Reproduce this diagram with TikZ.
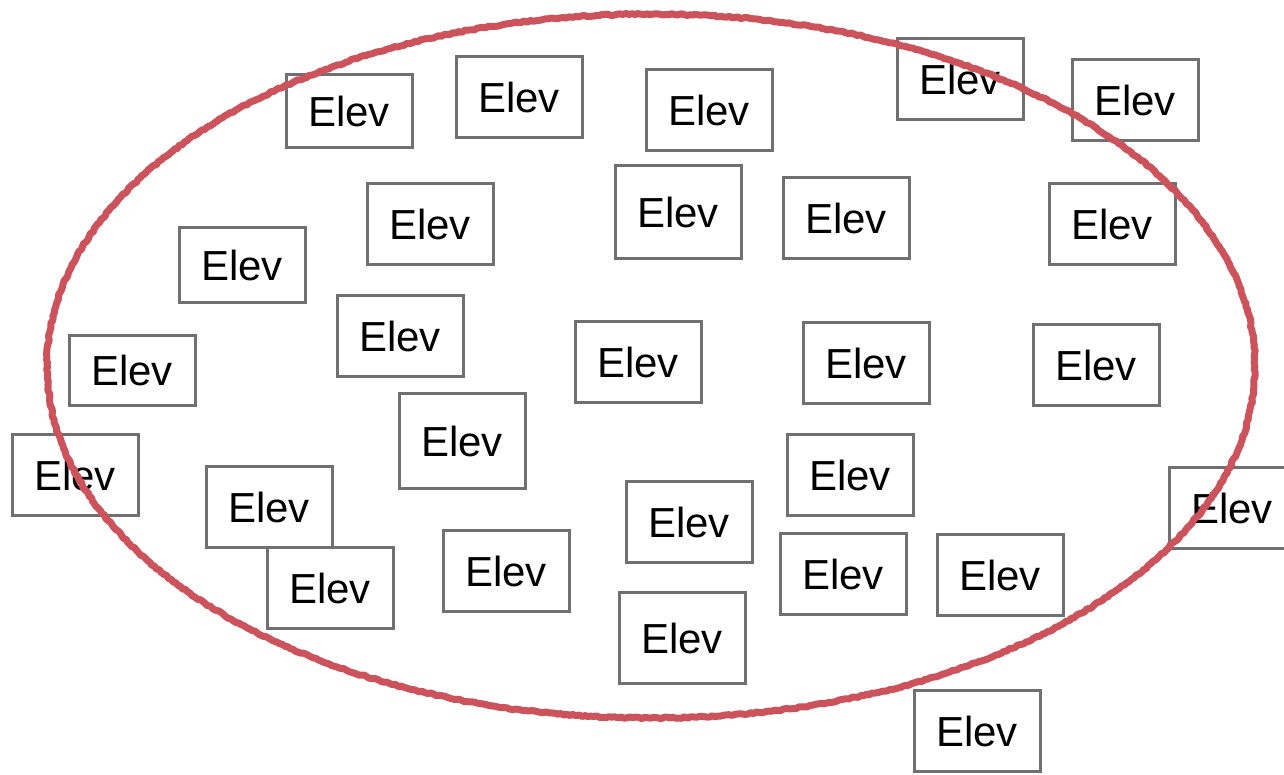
\documentclass[tikz,border=0pt]{standalone}
\usepackage{fontspec}
\setmainfont{Liberation Sans}
\usepackage{xcolor}
\usetikzlibrary{decorations.pathmorphing}
\definecolor{crayon}{RGB}{204,82,92}
\definecolor{boxgray}{RGB}{112,112,112}

\begin{document}
\begin{tikzpicture}[x=1pt, y=-1pt,
    elev/.style={draw=boxgray, line width=3pt, minimum width=126pt, minimum height=81pt,
        inner sep=0pt, font=\fontsize{42}{48}\selectfont},
    group/.style={draw=crayon, line width=7pt, line join=round, decorate,
        decoration={random steps, segment length=3pt, amplitude=0.8pt}}]
    \useasboundingbox (0,0) rectangle (1284,774);

    % top row
    \node[elev, minimum height=73pt] (elev1) at (349,111) {Elev};
    \node[elev] (elev2) at (519,97) {Elev};
    \node[elev] (elev3) at (709,110) {Elev};
    \node[elev] (elev4) at (960,79) {Elev};
    \node[elev] (elev5) at (1135,100) {Elev};

    \node[elev] (elev6) at (430,224) {Elev};
    \node[elev, minimum height=93pt] (elev7) at (678,212) {Elev};
    \node[elev] (elev8) at (846,218) {Elev};
    \node[elev] (elev9) at (1112,224) {Elev};
    \node[elev, minimum height=75pt] (elev10) at (242,265) {Elev};

    % middle
    \node[elev] (elev11) at (400,336) {Elev};
    \node[elev, minimum height=70pt] (elev12) at (132,370) {Elev};
    \node[elev] (elev13) at (638,362) {Elev};
    \node[elev] (elev14) at (866,363) {Elev};
    \node[elev] (elev15) at (1096,365) {Elev};
    \node[elev, minimum height=95pt] (elev16) at (462,441) {Elev};
    \node[elev] (elev17) at (75,475) {Elev};
    \node[elev] (elev18) at (850,475) {Elev};
    \node[elev] (elev19) at (269,507) {Elev};
    \node[elev] (elev20) at (1232,508) {Elev};

    % bottom
    \node[elev] (elev21) at (689,522) {Elev};
    \node[elev] (elev22) at (330,588) {Elev};
    \node[elev] (elev23) at (506,571) {Elev};
    \node[elev] (elev24) at (843,574) {Elev};
    \node[elev] (elev25) at (1000,575) {Elev};
    \node[elev, minimum height=91pt] (elev26) at (682,638) {Elev};
    \node[elev] (elev27) at (977,731) {Elev};

    % the red ring
    \draw[group] (651,366) ellipse [x radius=604, y radius=352];
\end{tikzpicture}
\end{document}
